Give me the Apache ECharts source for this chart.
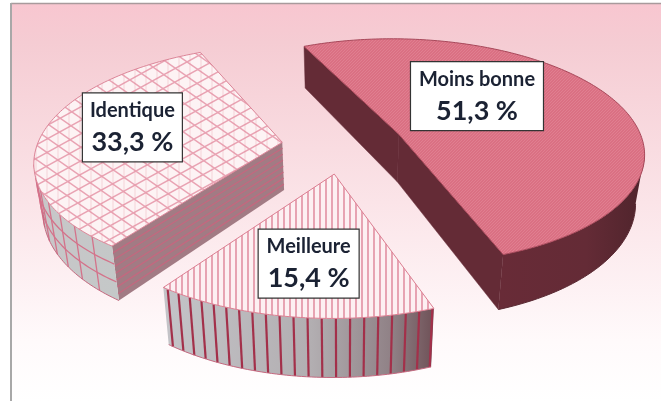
<!DOCTYPE html>
<html>
<head>
<meta charset="utf-8">
<style>html,body{margin:0;padding:0;background:#fff}#c{width:665px;height:401px}</style>
<script src="https://cdn.jsdelivr.net/npm/echarts@6/dist/echarts.min.js"></script>
</head>
<body>
<div id="c"></div>
<script>
const categories = ['Moins bonne', 'Meilleure', 'Identique'];
const values = [51.3, 15.4, 33.3];
const valueLabels = ['51,3 %', '15,4 %', '33,3 %'];

// 3D camera for the exploded pie
const cam = {ox: 343, oy: 145, a: 245, d: 113, h: 0.15, depth: 48, shrink: 0.03, explode: 0.25, start: 245.5};
const labelPlace = [
  {off: -24, r: 0.51, w: 133},
  {off: -0.4, r: 0.665, w: 101},
  {off: 6.6, r: 0.646, w: 100}
];
const W = 665, H = 401;

function hatch(draw, bg) {
  const cv = document.createElement('canvas');
  cv.width = W; cv.height = H;
  const g = cv.getContext('2d');
  g.fillStyle = bg; g.fillRect(0, 0, W, H);
  draw(g);
  return {image: cv, repeat: 'no-repeat'};
}
function family(g, slope, step, color, width) {
  g.strokeStyle = color; g.lineWidth = width;
  const range = Math.abs(slope) * W + H;
  for (let c = -range; c < range; c += step) {
    g.beginPath(); g.moveTo(0, c); g.lineTo(W, c + slope * W); g.stroke();
  }
}
const topFills = [
  hatch(g => { family(g, -1, 3, '#e07f90', 1); }, '#da7083'),
  hatch(g => {
    g.strokeStyle = '#dc7a90'; g.lineWidth = 1.3;
    for (let x = 2; x < W; x += 6) { g.beginPath(); g.moveTo(x, 0); g.lineTo(x, H); g.stroke(); }
  }, '#fdf0f2'),
  hatch(g => {
    family(g, -0.55, 13.5, '#e9a3b3', 1.5);
    family(g, 0.7, 14.5, '#e9a3b3', 1.5);
    g.strokeStyle = 'rgba(224,138,156,0.3)'; g.lineWidth = 1;
    for (let x = 3; x < W; x += 11) { g.beginPath(); g.moveTo(x, 0); g.lineTo(x, H); g.stroke(); }
  }, '#fdf3f4')
];
const rimFills = [
  {type: 'linear', x: 0, y: 0, x2: 1, y2: 0, colorStops: [{offset: 0, color: '#682b37'}, {offset: 0.6, color: '#642b36'}, {offset: 1, color: '#4f242c'}]},
  {type: 'linear', x: 0, y: 0, x2: 1, y2: 0, colorStops: [{offset: 0, color: '#c4c4c8'}, {offset: 0.55, color: '#b2aeb1'}, {offset: 0.85, color: '#8f8085'}, {offset: 1, color: '#6f5157'}]},
  {type: 'linear', x: 0, y: 0, x2: 1, y2: 0, colorStops: [{offset: 0, color: '#c8c6c8'}, {offset: 1, color: '#c4c8c8'}]}
];
const edgeFills = ['#642b36', '#a7868c', '#a27b84'];
const outline = ['#a8485a', '#dc7f92', '#dc8598'];
const wallLine = [null, '#a3304a', '#d4728a'];

function project(X, Y, z) {
  const w = 1 - cam.h * Y;
  let x = cam.ox + cam.a * X / w;
  const y = cam.oy + cam.d * Y / w + z * cam.depth / w;
  x += (cam.ox - x) * cam.shrink * z;
  return [x, y];
}
const total = values.reduce((s, v) => s + v, 0);
const rad = d => d * Math.PI / 180;

function renderSlice(params, api) {
  const i = params.dataIndex;
  let before = 0;
  for (let k = 0; k < i; k++) before += values[k];
  const value = api.value(0);
  const ts = cam.start + before / total * 360;
  const te = ts + value / total * 360;
  const mid = (ts + te) / 2;
  const cx = cam.explode * Math.cos(rad(mid));
  const cy = cam.explode * Math.sin(rad(mid));
  const P = (t, z, r) => project(cx + (r === undefined ? 1 : r) * Math.cos(rad(t)), cy + (r === undefined ? 1 : r) * Math.sin(rad(t)), z);
  const C = z => project(cx, cy, z);
  const ch = [];

  const poly = (points, fill, stroke, lw) => ({type: 'polygon', shape: {points}, style: {fill, stroke: stroke || null, lineWidth: lw || 0}});
  const line = (points, stroke, lw) => ({type: 'polyline', shape: {points}, style: {fill: null, stroke, lineWidth: lw}});

  // visible part of the rim wall
  const front = [];
  for (let t = ts; t <= te + 1e-6; t += 1) {
    const a = P(t, 0), b = P(Math.min(t + 1, te), 0);
    if (b[0] <= a[0]) front.push(t);
  }
  if (front.length) { front.push(Math.min(front[front.length - 1] + 1, te)); }
  const rimAt = z => front.map(t => P(t, z));

  // straight walls
  const straight = [];
  const c0 = C(0), s0 = P(ts, 0), e0 = P(te, 0);
  if (s0[0] < c0[0]) straight.push(ts);
  if (c0[0] < e0[0]) straight.push(te);
  straight.forEach(t => {
    ch.push(poly([C(0), P(t, 0), P(t, 1), C(1)], edgeFills[i], i === 0 ? '#642b36' : null, 0.5));
    if (i === 2) {
      for (let n = 1; n < 8; n++) ch.push(line([C(n / 8), P(t, n / 8)], '#c4687f', 1.3));
    }
  });
  if (front.length) {
    ch.push(poly(rimAt(0).concat(rimAt(1).reverse()), rimFills[i]));
    if (i === 1) {
      for (let t = front[0] + 0.3; t < front[front.length - 1]; t += 2.7) ch.push(line([P(t, 0), P(t, 1)], wallLine[1], 2.2));
    }
    if (i === 2) {
      for (let t = front[0] + 6; t < front[front.length - 1]; t += 6.2) ch.push(line([P(t, 0), P(t, 1)], wallLine[2], 1.3));
      [0.33, 0.66].forEach(z => ch.push(line(rimAt(z), wallLine[2], 1.3)));
    }
    ch.push(line(rimAt(1), i === 0 ? '#5a2a33' : '#c4687f', 1));
  }
  // top face
  const topPts = [C(0)];
  for (let t = ts; t < te; t += 1) topPts.push(P(t, 0));
  topPts.push(P(te, 0));
  ch.push(poly(topPts, topFills[i], outline[i], 1));

  // label box
  const lp = labelPlace[i];
  const a = P(mid + lp.off, 0, lp.r);
  const bw = lp.w, bh = 69;
  ch.push({type: 'rect', shape: {x: a[0] - bw / 2, y: a[1] - bh / 2, width: bw, height: bh}, style: {fill: '#fff', stroke: '#333', lineWidth: 1.2}});
  ch.push({type: 'text', style: {x: a[0], y: a[1] - 17, text: categories[i], align: 'center', verticalAlign: 'middle', fill: '#1b2233', font: 'bold 20px Lato'}});
  ch.push({type: 'text', style: {x: a[0], y: a[1] + 15, text: valueLabels[i], align: 'center', verticalAlign: 'middle', fill: '#1b2233', font: 'bold 27px Lato'}});
  return {type: 'group', children: ch};
}

const chart = echarts.init(document.getElementById('c'), null, {renderer: 'canvas', width: W, height: H});
chart.setOption({
  animation: false,
  backgroundColor: '#fff',
  graphic: [
    {type: 'rect', z: -2, shape: {x: 11, y: 3, width: 650, height: 398},
     style: {fill: {type: 'linear', x: 0, y: 0, x2: 0, y2: 1, colorStops: [
       {offset: 0, color: '#f8c6d0'}, {offset: 0.1, color: '#f5ccd3'}, {offset: 0.5, color: '#fbe4e8'}, {offset: 0.85, color: '#fffafb'}, {offset: 1, color: '#ffffff'}]}}},
    {type: 'line', z: -1, shape: {x1: 11, y1: 3.5, x2: 661, y2: 3.5}, style: {stroke: '#a89a9c', lineWidth: 1.5}},
    {type: 'line', z: -1, shape: {x1: 11, y1: 3, x2: 11, y2: 401}, style: {stroke: '#a8a8a8', lineWidth: 2}}
  ],
  series: [{
    type: 'custom',
    coordinateSystem: 'none',
    silent: true,
    clip: false,
    data: values.map(v => [v]),
    encode: {value: 0},
    renderItem: renderSlice
  }]
});
</script>
</body>
</html>
